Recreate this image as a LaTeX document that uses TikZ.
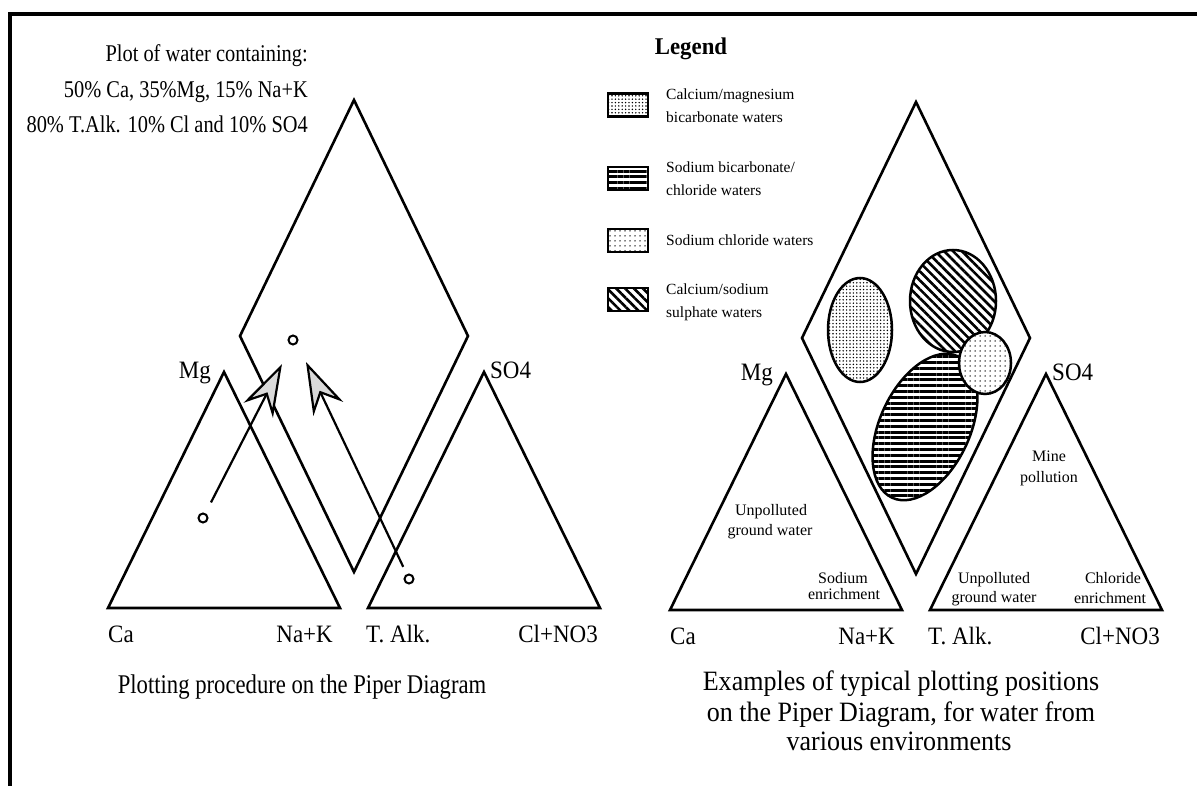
\documentclass[tikz,border=0pt]{standalone}
\usepackage{fontspec}
\setmainfont{Liberation Serif}
\newfontfamily\notefont[FakeStretch=0.85]{Liberation Serif}
\newfontfamily\axisfont[FakeStretch=0.92]{Liberation Serif}
\newfontfamily\captfont[FakeStretch=0.84]{Liberation Serif}
\newfontfamily\titlefont[FakeStretch=0.93]{Liberation Serif}
\newfontfamily\headfont[FakeStretch=0.95]{Liberation Serif}
\usetikzlibrary{arrows.meta,patterns.meta}

% One Piper grid: two triangles and the central diamond, with corner labels.
% #1 name prefix, #2 x offset, #3 y offset
\newcommand\pipergrid[3]{%
  \begin{scope}[shift={(#2,#3)}]
    \coordinate (#1-ca)  at (108,608);
    \coordinate (#1-na)  at (340,608);
    \coordinate (#1-mg)  at (224,372);
    \coordinate (#1-alk) at (368,608);
    \coordinate (#1-cl)  at (600,608);
    \coordinate (#1-so)  at (484,372);
    \coordinate (#1-dt)  at (354,100);
    \coordinate (#1-dl)  at (240,336);
    \coordinate (#1-db)  at (354,572);
    \coordinate (#1-dr)  at (468,336);
    \draw[outline] (#1-ca) -- (#1-na) -- (#1-mg) -- cycle;
    \draw[outline] (#1-alk) -- (#1-cl) -- (#1-so) -- cycle;
    \draw[outline] (#1-dt) -- (#1-dl) -- (#1-db) -- (#1-dr) -- cycle;
    \node[axislabel, anchor=base east] (#1-lmg)  at (211,378) {Mg};
    \node[axislabel, anchor=base west] (#1-lso)  at (490,378) {SO4};
    \node[axislabel, anchor=base west] (#1-lca)  at (108,642) {Ca};
    \node[axislabel, anchor=base east] (#1-lna)  at (333,642) {Na+K};
    \node[axislabel, anchor=base west] (#1-lalk) at (366,642) {T. Alk.};
    \node[axislabel, anchor=base east] (#1-lcl)  at (598,642) {Cl+NO3};
  \end{scope}}

\begin{document}
\begin{tikzpicture}[x=1pt,y=-1pt,
  outline/.style={line width=2.6pt, line join=miter},
  axislabel/.style={inner sep=0pt, font={\axisfont\fontsize{25}{30}\selectfont}},
  note/.style={inner sep=0pt, anchor=base east, font={\notefont\fontsize{24}{28}\selectfont}},
  captionleft/.style={inner sep=0pt, anchor=base, font={\captfont\fontsize{27}{32}\selectfont}},
  captionright/.style={inner sep=0pt, anchor=base, font={\titlefont\fontsize{28}{32}\selectfont}},
  legtext/.style={inner sep=0pt, anchor=base west, font={\fontsize{15.5}{19}\selectfont}},
  zonetext/.style={inner sep=0pt, anchor=base, font={\fontsize{16}{19}\selectfont}},
  legbox/.style={draw, line width=2.6pt, minimum width=40pt, minimum height=23pt, inner sep=0pt},
  sample/.style={circle, draw, line width=2pt, minimum size=9pt, inner sep=0pt},
  plotarrow/.style={line width=2.2pt,
    -{Stealth[length=52pt,width=33pt,inset=17pt,fill=gray!30]}},
  zone/.style={line width=2.5pt, preaction={fill=white}},
  densedots/.style={pattern={Dots[distance=3.4pt,radius=0.8pt]}},
  sparsedots/.style={pattern={Dots[distance=5pt,radius=0.75pt]}},
  hlines/.style={pattern={Lines[angle=0,distance=5.8pt,line width=3pt]}},
  dlines/.style={pattern={Lines[angle=-45,distance=6.3pt,line width=2.6pt]}},
]
\useasboundingbox (0,0) rectangle (1197,786);
\fill[white] (0,0) rectangle (1197,786);

% frame
\draw[line width=3.6pt] (10,786) -- (10,14) -- (1197,14);

% ---------- left: plotting procedure ----------
\pipergrid{L}{0}{0}

\node[note] (n1) at (308,62)  {Plot of water containing:};
\node[note] (n2) at (308,98)  {50\% Ca, 35\%Mg, 15\% Na+K};
\node[note] (n3) at (308,133) {80\% T.Alk. 10\% Cl and 10\% SO4};

\node[sample] (pc) at (203,518) {};
\node[sample] (pa) at (409,579) {};
\node[sample] (pd) at (293,340) {};
\coordinate (tipc) at (282,364);
\coordinate (tipa) at (306,362);
\draw[plotarrow, shorten <=12pt] (pc) -- (tipc);
\draw[plotarrow, shorten <=8pt] (pa) -- (tipa);

\node[captionleft] (capL) at (302,693) {Plotting procedure on the Piper Diagram};

% ---------- right: typical plotting positions ----------
\pipergrid{R}{562}{2}

% water-type zones in the diamond
\draw[zone, dlines] (953,301) ellipse [x radius=43pt, y radius=51pt];
\draw[zone, hlines, shift={(925,427)}, rotate=-25] (0,0) ellipse [x radius=45pt, y radius=78pt];
\draw[zone, densedots] (860,330) ellipse [x radius=32pt, y radius=52pt];
\draw[zone, sparsedots] (985,363) ellipse [x radius=26pt, y radius=31pt];

% zone labels in the triangles
\node[zonetext] (u1a) at (771,515) {Unpolluted};
\node[zonetext] (u1b) at (770,535) {ground water};
\node[zonetext] (s1a) at (843,583) {Sodium};
\node[zonetext] (s1b) at (844,599) {enrichment};
\node[zonetext] (m1a) at (1049,461) {Mine};
\node[zonetext] (m1b) at (1049,482) {pollution};
\node[zonetext] (u2a) at (994,583) {Unpolluted};
\node[zonetext] (u2b) at (994,602) {ground water};
\node[zonetext] (c2a) at (1113,583) {Chloride};
\node[zonetext] (c2b) at (1110,603) {enrichment};

% legend
\node[inner sep=0pt, anchor=base, font={\headfont\bfseries\fontsize{24}{28}\selectfont}] (leg) at (691,55) {Legend};
\node[legbox, densedots]  (k1) at (628,105) {};
\node[legbox, hlines]     (k2) at (628,178.5) {};
\node[legbox, sparsedots] (k3) at (628,240.5) {};
\node[legbox, dlines]     (k4) at (628,299.5) {};
\node[legtext] (t1a) at (666,100) {Calcium/magnesium};
\node[legtext] (t1b) at (666,123) {bicarbonate waters};
\node[legtext] (t2a) at (666,173) {Sodium bicarbonate/};
\node[legtext] (t2b) at (666,196) {chloride waters};
\node[legtext] (t3a) at (666,246) {Sodium chloride waters};
\node[legtext] (t4a) at (666,295) {Calcium/sodium};
\node[legtext] (t4b) at (666,318) {sulphate waters};

\node[captionright] (capR1) at (901,690) {Examples of typical plotting positions};
\node[captionright] (capR2) at (901,721) {on the Piper Diagram, for water from};
\node[captionright] (capR3) at (899,750) {various environments};
\end{tikzpicture}
\end{document}
